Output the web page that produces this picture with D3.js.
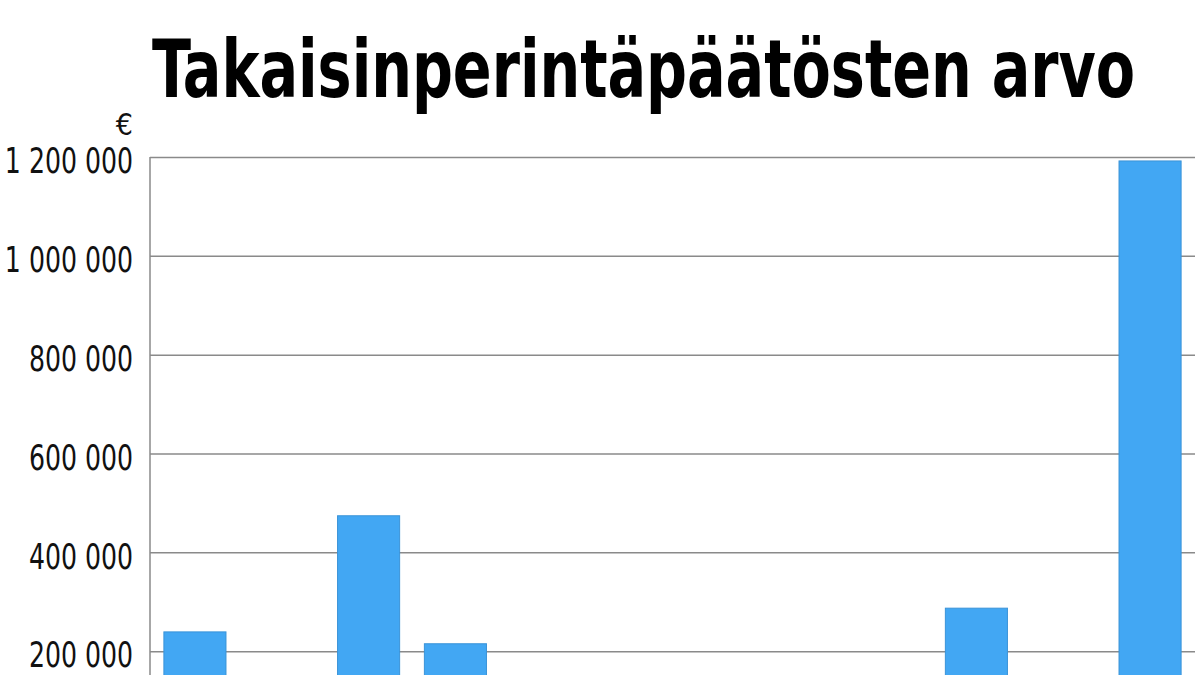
<!DOCTYPE html>
<html>
<head>
<meta charset="utf-8">
<script src="https://cdn.jsdelivr.net/npm/d3@7"></script>
<style>
  html, body { margin: 0; padding: 0; background: #fff; overflow: hidden; }
  svg { display: block; }
</style>
</head>
<body>
<div class="chart"></div>
<script>
// one bar per slot; null = below the visible (cropped) part of the picture
const categories = ['1', '2', '3', '4', '5', '6', '7', '8', '9', '10', '11', '12'];
const values = [239000, null, 474000, 215000, null, null, null, null, null, 287000, null, 1192000];
const yTicks = [200000, 400000, 600000, 800000, 1000000, 1200000];

const width = 1200;
const height = 675;
const plotLeft = 150;
const plotRight = 1195;
const plotTop = 157;
const zeroY = 750; // baseline sits below the cropped bottom edge
const labelFont = '"DejaVu Sans Condensed", "DejaVu Sans", sans-serif';
const squeeze = 0.8; // narrow the label glyphs

const svg = d3.select('.chart')
  .append('svg')
  .attr('width', width)
  .attr('height', height);

const xScale = d3.scaleBand()
  .domain(categories)
  .range([plotLeft, plotRight])
  .paddingInner(0.285)
  .paddingOuter(0.16);

const yScale = d3.scaleLinear()
  .domain([0, 1200000])
  .range([zeroY, plotTop]);

// gridlines + labels
const yAxis = d3.axisLeft(yScale)
  .tickValues(yTicks)
  .tickSize(-(plotRight - plotLeft))
  .tickFormat(v => d3.format(',')(v).replace(/,/g, ' '));

const gy = svg.append('g')
  .attr('transform', `translate(${plotLeft}, 0)`)
  .call(yAxis);
gy.select('.domain').remove();
gy.selectAll('.tick line')
  .attr('stroke', '#8a8a8a')
  .attr('stroke-width', 1.5);
gy.selectAll('.tick text')
  .attr('fill', '#111')
  .attr('x', -17 / squeeze)
  .attr('dy', '0.45em')
  .attr('transform', `scale(${squeeze}, 1)`)
  .style('font-family', labelFont)
  .style('font-size', '35px');

// left axis line
svg.append('line')
  .attr('x1', plotLeft).attr('x2', plotLeft)
  .attr('y1', plotTop).attr('y2', height)
  .attr('stroke', '#8a8a8a')
  .attr('stroke-width', 1.5);

svg.append('g')
  .selectAll('rect')
  .data(values.map((v, i) => ({ cat: categories[i], v })).filter(d => d.v !== null))
  .enter()
  .append('rect')
  .attr('x', d => xScale(d.cat))
  .attr('y', d => yScale(d.v))
  .attr('width', xScale.bandwidth())
  .attr('height', d => yScale(0) - yScale(d.v))
  .attr('fill', '#42a7f3')
  .attr('stroke', '#3a93d8')
  .attr('stroke-width', 1);

svg.append('text')
  .attr('x', plotLeft - 17)
  .attr('y', 135)
  .attr('text-anchor', 'end')
  .style('font-family', labelFont)
  .style('font-size', '30px')
  .attr('fill', '#111')
  .text('€');

svg.append('text')
  .attr('x', 152)
  .attr('y', 97)
  .attr('textLength', 983)
  .attr('lengthAdjust', 'spacingAndGlyphs')
  .style('font-family', labelFont)
  .style('font-weight', 'bold')
  .style('font-size', '80px')
  .attr('fill', '#000')
  .text('Takaisinperintäpäätösten arvo');
</script>
</body>
</html>
